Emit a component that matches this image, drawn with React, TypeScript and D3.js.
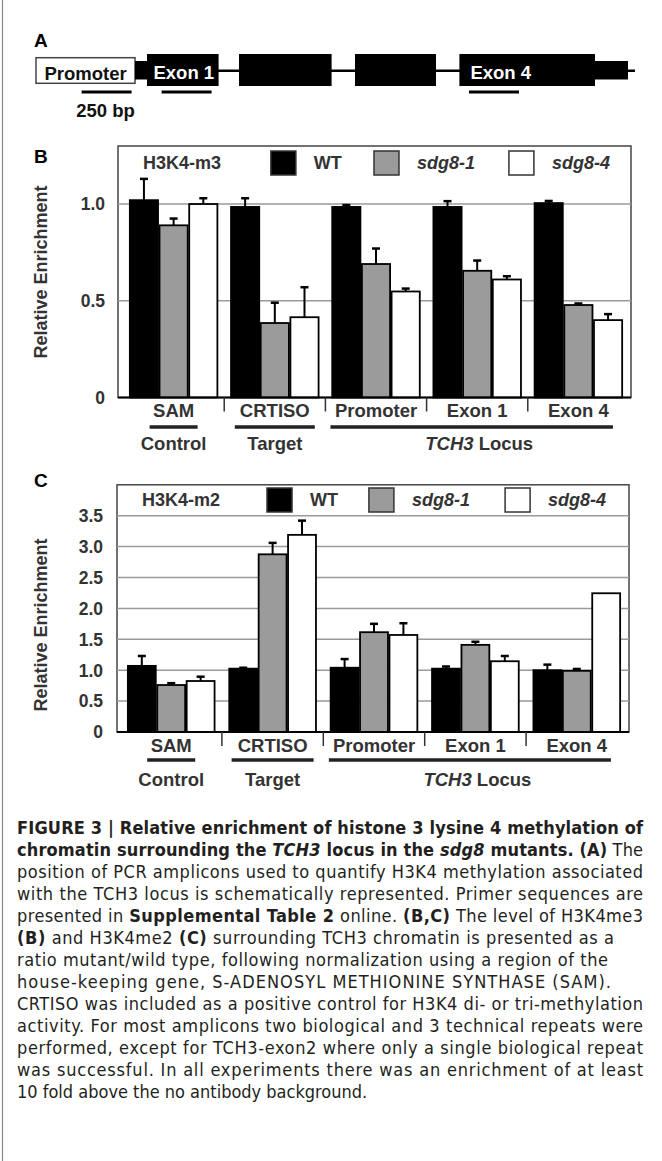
import React from "react";
import * as d3 from "d3";

// ---------- DATA ----------
const groups = ["SAM", "CRTISO", "Promoter", "Exon 1", "Exon 4"];
const series = ["WT", "sdg8-1", "sdg8-4"];

// Panel B: H3K4-m3 relative enrichment (rows = groups, cols = series)
const m3Values = [
  [1.02, 0.89, 1.0],
  [0.985, 0.385, 0.415],
  [0.985, 0.69, 0.548],
  [0.985, 0.655, 0.61],
  [1.005, 0.478, 0.4],
];
const m3Errors = [
  [0.11, 0.035, 0.03],
  [0.045, 0.105, 0.155],
  [0.01, 0.08, 0.015],
  [0.03, 0.053, 0.017],
  [0.011, 0.008, 0.031],
];
const m3Ticks = [0, 0.5, 1.0];

// Panel C: H3K4-m2 relative enrichment
const m2Values = [
  [1.07, 0.76, 0.825],
  [1.025, 2.875, 3.19],
  [1.04, 1.615, 1.57],
  [1.025, 1.41, 1.145],
  [1.0, 0.99, 2.245],
];
const m2Errors = [
  [0.16, 0.03, 0.07],
  [0.015, 0.185, 0.23],
  [0.14, 0.135, 0.19],
  [0.035, 0.05, 0.085],
  [0.09, 0.03, 0],
];
const m2Ticks = [0, 0.5, 1.0, 1.5, 2.0, 2.5, 3.0, 3.5];

const groupSets = [
  { label: "Control", from: "SAM", to: "SAM" },
  { label: "Target", from: "CRTISO", to: "CRTISO" },
  { label: "TCH3 Locus", from: "Promoter", to: "Exon 4" },
];

// Panel A gene model (bp from promoter start)
const geneFeatures = [
  { name: "Promoter", type: "promoter", start: 0, end: 495 },
  { name: "", type: "utr", start: 495, end: 555 },
  { name: "Exon 1", type: "exon", start: 555, end: 913 },
  { name: "", type: "exon", start: 1015, end: 1478 },
  { name: "", type: "exon", start: 1595, end: 2000 },
  { name: "Exon 4", type: "exon", start: 2117, end: 2795 },
  { name: "", type: "utr", start: 2795, end: 2960 },
];
const geneEnd = 2995;
const amplicons = [
  { start: 228, end: 478 },
  { start: 628, end: 878 },
  { start: 2165, end: 2415 },
];
const scaleBarLabel = "250 bp";

const captionLines = [
  [{ t: "FIGURE 3 | Relative enrichment of histone 3 lysine 4 methylation of", b: true }],
  [
    { t: "chromatin surrounding the ", b: true },
    { t: "TCH3", b: true, i: true },
    { t: " locus in the ", b: true },
    { t: "sdg8", b: true, i: true },
    { t: " mutants. (A)", b: true },
    { t: " The" },
  ],
  [{ t: "position of PCR amplicons used to quantify H3K4 methylation associated" }],
  [{ t: "with the TCH3 locus is schematically represented. Primer sequences are" }],
  [
    { t: "presented in " },
    { t: "Supplemental Table 2", b: true },
    { t: " online. " },
    { t: "(B,C)", b: true },
    { t: " The level of H3K4me3" },
  ],
  [
    { t: "(B)", b: true },
    { t: " and H3K4me2 " },
    { t: "(C)", b: true },
    { t: " surrounding TCH3 chromatin is presented as a" },
  ],
  [{ t: "ratio mutant/wild type, following normalization using a region of the" }],
  [{ t: "house-keeping gene, S-ADENOSYL METHIONINE SYNTHASE (SAM)." }],
  [{ t: "CRTISO was included as a positive control for H3K4 di- or tri-methylation" }],
  [{ t: "activity. For most amplicons two biological and 3 technical repeats were" }],
  [{ t: "performed, except for TCH3-exon2 where only a single biological repeat" }],
  [{ t: "was successful. In all experiments there was an enrichment of at least" }],
  [{ t: "10 fold above the no antibody background." }],
];
const captionWidths = [626, 626, 626, 626, 626, 597, 591, 594, 626, 626, 626, 626, 0];

// ---------- STYLE ----------
const FONT = "'Liberation Sans', Arial, Helvetica, sans-serif";
const NARROW = "'Liberation Sans Narrow', 'DejaVu Sans Condensed', 'Liberation Sans', Arial, sans-serif";
const TXT = "#333";
const fills = ["#000", "#9b9b9b", "#fff"];

function BarPanel(props: any) {
  const {
    letter, letterY, left, right, top, zeroY, yMax, values, errors, ticks,
    legendTitle, tickRight, titleY, padInner, bandLeft, labelY, underlineY, setY,
    swatchOffsets, legendY, underHalf,
  } = props;
  const x = d3.scaleBand<string>().domain(groups).range([bandLeft, right]).paddingInner(padInner).paddingOuter(0.08);
  const xs = d3.scaleBand<string>().domain(series).range([0, x.bandwidth()]);
  const unit = (zeroY - top) / yMax;
  const y = d3.scaleLinear().domain([0, yMax]).range([zeroY, zeroY - unit * yMax]);
  const fmt = (v: number) => (v === 0 ? "0" : d3.format(".1f")(v));
  const step = x.step();
  const w = right - left;
  return (
    <g>
      <text x={34} y={letterY} fontFamily={FONT} fontWeight="bold" fontSize={19} fill="#000">{letter}</text>
      {/* frame */}
      <rect x={left} y={top} width={w} height={zeroY - top} fill="#fff" stroke="#444" strokeWidth={1.5} />
      {/* gridlines */}
      {ticks.filter((t: number) => t > 0).map((t: number) => (
        <line key={t} x1={left} x2={right} y1={y(t)} y2={y(t)} stroke="#9a9a9a" strokeWidth={1.5} />
      ))}
      {/* tick labels */}
      {ticks.map((t: number) => (
        <text key={t} x={tickRight} y={y(t)} dy="0.36em" textAnchor="end" fontFamily={FONT} fontWeight="bold" fontSize={17.5} fill={TXT}>{fmt(t)}</text>
      ))}
      {/* y title */}
      <text transform={`translate(47,${titleY}) rotate(-90)`} textAnchor="middle" fontFamily={FONT} fontWeight="bold" fontSize={18} fill={TXT}>Relative Enrichment</text>
      {/* legend */}
      <text x={left + 25} y={legendY + 6} fontFamily={FONT} fontWeight="bold" fontSize={18} fill={TXT}>{legendTitle}</text>
      {series.map((s, i) => (
        <g key={s}>
          <rect x={left + swatchOffsets[i] * w} y={legendY - 12} width={25} height={24} fill={fills[i]} stroke="#333" strokeWidth={1.5} />
          <text x={left + swatchOffsets[i] * w + 43} y={legendY + 6} fontFamily={FONT} fontWeight="bold" fontStyle={i > 0 ? "italic" : "normal"} fontSize={18} fill={TXT}>{s}</text>
        </g>
      ))}
      {/* bars */}
      {groups.map((g, gi) => (
        <g key={g}>
          {series.map((s, si) => {
            const v = values[gi][si];
            const bx = (x(g) as number) + (xs(s) as number);
            const bw = xs.bandwidth();
            return (
              <rect key={s} x={bx + 0.75} y={y(v)} width={bw - 1.5} height={y(0) - y(v)} fill={fills[si]} stroke="#000" strokeWidth={1.8} />
            );
          })}
          {series.map((s, si) => {
            const v = values[gi][si];
            const e = errors[gi][si];
            if (!e) return null;
            const cx = (x(g) as number) + (xs(s) as number) + xs.bandwidth() / 2;
            return (
              <g key={s + "e"} stroke="#000" strokeWidth={2}>
                <line x1={cx} x2={cx} y1={y(v)} y2={y(v + e)} />
                <line x1={cx - 4} x2={cx + 4} y1={y(v + e)} y2={y(v + e)} strokeWidth={2.5} />
              </g>
            );
          })}
        </g>
      ))}
      {/* bottom axis */}
      <line x1={left} x2={right} y1={zeroY} y2={zeroY} stroke="#000" strokeWidth={2} />
      {groups.slice(1).map((g) => {
        const sx = (x(g) as number) - (step * padInner) / 2;
        return <line key={g} x1={sx} x2={sx} y1={zeroY} y2={zeroY + 14} stroke="#333" strokeWidth={1.5} />;
      })}
      {/* category labels */}
      {groups.map((g) => (
        <text key={g} x={(x(g) as number) + x.bandwidth() / 2} y={labelY} textAnchor="middle" fontFamily={FONT} fontWeight="bold" fontSize={18.5} fill={TXT}>{g}</text>
      ))}
      {/* group set underlines and labels */}
      {groupSets.map((gs, i) => {
        const a = x(gs.from) as number;
        const b = (x(gs.to) as number) + x.bandwidth();
        const c = (a + b) / 2;
        const x1 = gs.from === gs.to ? c - underHalf[i] : a - 1;
        const x2 = gs.from === gs.to ? c + underHalf[i] : b - 10;
        const parts = gs.label.split(" ");
        return (
          <g key={gs.label}>
            <line x1={x1} x2={x2} y1={underlineY} y2={underlineY} stroke="#222" strokeWidth={3.5} />
            <text x={gs.from === gs.to ? c : c + 2} y={setY} textAnchor="middle" fontFamily={FONT} fontWeight="bold" fontSize={18.5} fill={TXT}>
              {parts.length > 1 ? (
                <>
                  <tspan fontStyle="italic">{parts[0]}</tspan>
                  <tspan>{" " + parts.slice(1).join(" ")}</tspan>
                </>
              ) : (
                gs.label
              )}
            </text>
          </g>
        );
      })}
    </g>
  );
}

function GenePanel() {
  const gx = d3.scaleLinear().domain([0, geneEnd]).range([36, 635]);
  const midY = 70.7;
  return (
    <g>
      <text x={34} y={47} fontFamily={FONT} fontWeight="bold" fontSize={19} fill="#000">A</text>
      <line x1={gx(0)} x2={gx(geneEnd)} y1={midY} y2={midY} stroke="#000" strokeWidth={2.5} />
      {geneFeatures.map((f, i) => {
        const x0 = gx(f.start);
        const x1 = gx(f.end);
        if (f.type === "promoter") {
          return (
            <g key={i}>
              <rect x={x0} y={57.7} width={x1 - x0} height={25.6} fill="#fff" stroke="#444" strokeWidth={1.5} />
              <text x={(x0 + x1) / 2} y={80} textAnchor="middle" fontFamily={FONT} fontWeight="bold" fontSize={18.5} fill="#111">{f.name}</text>
            </g>
          );
        }
        if (f.type === "utr") {
          return <rect key={i} x={x0} y={61} width={x1 - x0} height={18.5} fill="#000" />;
        }
        return (
          <g key={i}>
            <rect x={x0} y={54} width={x1 - x0} height={32} fill="#000" />
            {f.name && (
              <text
                x={f.name === "Exon 1" ? (x0 + x1) / 2 + 1 : x0 + 11}
                y={79}
                textAnchor={f.name === "Exon 1" ? "middle" : "start"}
                fontFamily={FONT}
                fontWeight="bold"
                fontSize={18.5}
                fill="#fff"
              >
                {f.name}
              </text>
            )}
          </g>
        );
      })}
      {amplicons.map((a, i) => (
        <line key={i} x1={gx(a.start)} x2={gx(a.end)} y1={92} y2={92} stroke="#000" strokeWidth={3} />
      ))}
      <text x={(gx(amplicons[0].start) + gx(amplicons[0].end)) / 2 - 1} y={117} textAnchor="middle" fontFamily={FONT} fontWeight="bold" fontSize={18.5} fill="#111">{scaleBarLabel}</text>
    </g>
  );
}

function Caption() {
  const top = 834;
  const lh = 22;
  return (
    <g fontFamily={NARROW} fontSize={18} fill="#231f20">
      {captionLines.map((segs, i) => {
        const extra: any = captionWidths[i] ? { textLength: captionWidths[i], lengthAdjust: "spacing" } : {};
        return (
          <text key={i} x={17} y={top + i * lh} {...extra}>
            {segs.map((s: any, j: number) => (
              <tspan key={j} fontWeight={s.b ? "bold" : "normal"} fontStyle={s.i ? "italic" : "normal"}>{s.t}</tspan>
            ))}
          </text>
        );
      })}
    </g>
  );
}

export default function App() {
  return (
    <svg width={662} height={1161} style={{ position: "absolute", left: 0, top: 0, background: "#fff" }}>
      <rect x={0} y={0} width={662} height={1161} fill="#fff" />
      <line x1={2.5} x2={2.5} y1={0} y2={1161} stroke="#888" strokeWidth={1.2} />
      <GenePanel />
      <BarPanel
        letter="B" letterY={163}
        left={118} right={631} top={146} zeroY={397.5} yMax={1.3}
        bandLeft={121} padInner={0.12}
        values={m3Values} errors={m3Errors} ticks={m3Ticks}
        legendTitle="H3K4-m3" legendY={163}
        swatchOffsets={[0.298, 0.499, 0.762]}
        tickRight={105} titleY={272}
        labelY={417} underlineY={427} setY={450}
        underHalf={[24, 40, 0]}
      />
      <BarPanel
        letter="C" letterY={487}
        left={117} right={629} top={484.8} zeroY={732} yMax={4}
        bandLeft={119} padInner={0.13}
        values={m2Values} errors={m2Errors} ticks={m2Ticks}
        legendTitle="H3K4-m2" legendY={500}
        swatchOffsets={[0.293, 0.492, 0.758]}
        tickRight={103} titleY={625}
        labelY={752} underlineY={760} setY={786}
        underHalf={[24, 41, 0]}
      />
      <Caption />
    </svg>
  );
}
